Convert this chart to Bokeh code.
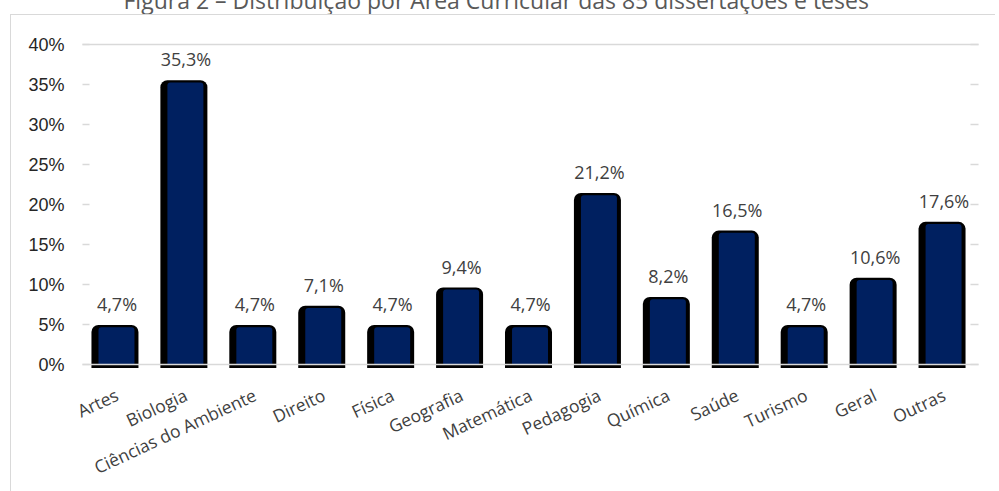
import math
from bokeh.plotting import figure
from bokeh.models import (ColumnDataSource, FixedTicker, LinearAxis, LabelSet,
                          CustomJSTickFormatter, InlineStyleSheet)
from bokeh.core.properties import value
from bokeh.transform import dodge
from bokeh.embed import file_html
from bokeh.resources import INLINE

# ---- data ----
categories = ["Artes", "Biologia", "Ciências do Ambiente", "Direito", "Física",
              "Geografia", "Matemática", "Pedagogia", "Química", "Saúde",
              "Turismo", "Geral", "Outras"]
values = [4.7, 35.3, 4.7, 7.1, 4.7, 9.4, 4.7, 21.2, 8.2, 16.5, 4.7, 10.6, 17.6]
y_ticks = [0, 5, 10, 15, 20, 25, 30, 35, 40]
title_text = "Figura 2 – Distribuição por Área Curricular das 85 dissertações e teses"

value_labels = [f"{v:.1f}%".replace(".", ",") for v in values]
source = ColumnDataSource(dict(
    cat=categories,
    val=values,
    shadow_top=[v + 0.27 for v in values],
    lab=value_labels,
))

NAVY = "#002060"
GRID = "#d9d9d9"
TOP = 88           # height of the panel above the plot frame (holds the title)
SHIFT = -46        # pull the figure up so the title is cut off at the window top

p = figure(x_range=categories, y_range=(-0.6, 40.3),
           frame_width=896, frame_height=327,
           min_border_left=82, min_border_right=17, min_border_top=TOP, min_border_bottom=108,
           output_backend="svg", toolbar_location=None, tools="")
p.margin = (SHIFT, 0, 0, 0)
p.background_fill_color = "white"
p.border_fill_color = "white"
p.outline_line_color = None

# outer chart border (left and top edges; the rest lies outside the window)
p.stylesheets = [InlineStyleSheet(css=f"""
:host::after {{
  content: "";
  position: absolute;
  left: 10px; top: {14 - SHIFT}px; right: 0px; bottom: 0px;
  border-left: 1px solid #d9d9d9;
  border-top: 1px solid #d9d9d9;
  border-right: none;
  border-bottom: none;
  pointer-events: none;
}}
""")]

# title
p.title.text = title_text
p.title.align = "left"
p.title.offset = 41
p.title.text_font = "Open Sans"
p.title.text_font_style = "normal"
p.title.text_font_size = "23px"
p.title.text_color = "#595959"
p.title.standoff = 54

# bars: black rounded shadow then navy bar
p.vbar(x=dodge("cat", -0.029, range=p.x_range), top="shadow_top", bottom=-0.4,
       width=0.682, source=source, fill_color="black", line_color=None,
       border_radius=(7, 7, 0, 0))
p.vbar(x=dodge("cat", -0.007, range=p.x_range), top="val", bottom=0,
       width=0.522, source=source, fill_color=NAVY, line_color=None,
       border_radius=(3, 3, 0, 0))

# value labels
labels = LabelSet(x="cat", y="val", text="lab", source=source,
                  text_align="center", text_baseline="alphabetic", y_offset=16,
                  text_font=value("Open Sans"), text_font_size=value("18px"),
                  text_color=value("#404040"))
p.add_layout(labels)

# grid: only 0 and 40 as full lines, drawn over bars
p.xgrid.grid_line_color = None
p.ygrid.ticker = FixedTicker(ticks=[0, 40])
p.ygrid.grid_line_color = GRID
p.ygrid.grid_line_width = 1.5
p.ygrid.level = "overlay"

fmt = CustomJSTickFormatter(code="return tick + '%';")

# left axis
ya = p.yaxis[0]
ya.ticker = FixedTicker(ticks=y_ticks)
ya.formatter = fmt
ya.axis_line_color = None
ya.major_tick_in = 7
ya.major_tick_out = 0
ya.major_tick_line_color = GRID
ya.major_tick_line_width = 1.5
ya.minor_tick_line_color = None
ya.major_label_standoff = 18
ya.major_label_text_font = "Liberation Sans"
ya.major_label_text_font_size = "18px"
ya.major_label_text_color = "#262626"

# right axis (ticks only)
ra = LinearAxis(ticker=FixedTicker(ticks=y_ticks), formatter=fmt)
ra.axis_line_color = None
ra.major_tick_in = 8
ra.major_tick_out = 0
ra.major_tick_line_color = GRID
ra.major_tick_line_width = 1.5
ra.minor_tick_line_color = None
ra.major_label_text_alpha = 0
ra.major_label_text_font_size = "1px"
ra.major_label_standoff = 0
p.add_layout(ra, "right")

# x axis
xa = p.xaxis[0]
xa.axis_line_color = None
xa.major_tick_line_color = None
xa.minor_tick_line_color = None
xa.major_label_orientation = math.radians(25)
xa.major_label_standoff = 18
xa.major_label_text_font = "Open Sans"
xa.major_label_text_font_size = "17.5px"
xa.major_label_text_color = "#404040"

open("out.html", "w").write(file_html(p, INLINE))
